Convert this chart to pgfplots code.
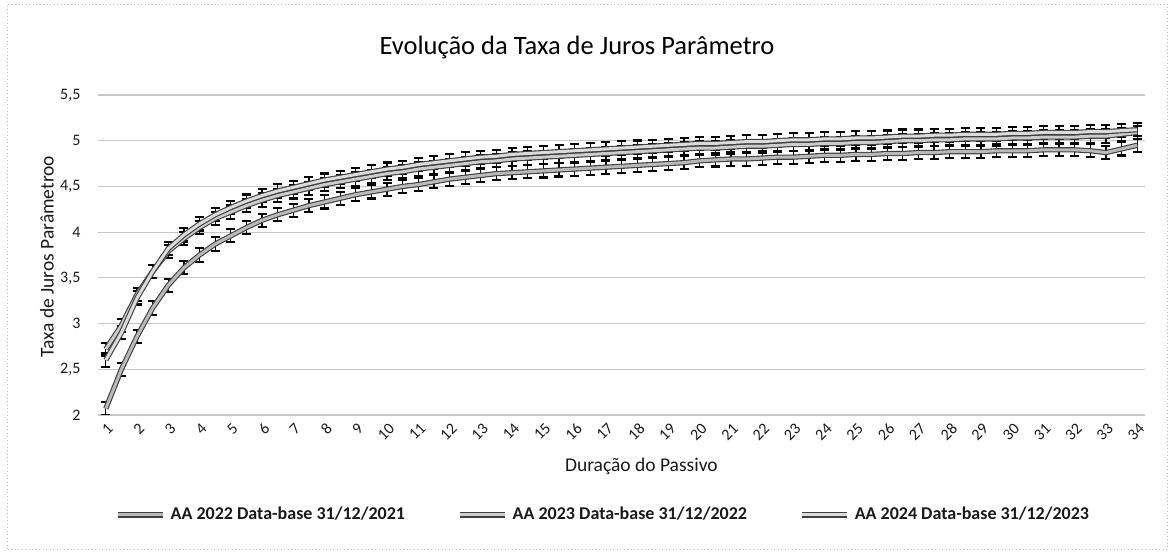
\documentclass[border=0pt]{standalone}
\usepackage{pgfplots}
\pgfplotsset{compat=1.18}
\usepackage{pgfplotstable}
\usepackage{fontspec}
\setmainfont{Carlito}
\pgfplotstableread{
x a22 a23 a24
1 2.07 2.72 2.60
1.5 2.50 2.98 2.90
2 2.86 3.32 3.28
2.5 3.17 3.57 3.57
3 3.42 3.79 3.82
3.5 3.61 3.93 3.97
4 3.75 4.05 4.09
4.5 3.87 4.15 4.19
5 3.96 4.22 4.27
5.5 4.05 4.29 4.34
6 4.13 4.35 4.40
6.5 4.19 4.40 4.45
7 4.24 4.44 4.49
7.5 4.29 4.48 4.53
8 4.33 4.52 4.57
8.5 4.37 4.55 4.60
9 4.41 4.58 4.63
9.5 4.44 4.61 4.66
10 4.47 4.64 4.69
10.5 4.50 4.66 4.71
11 4.52 4.69 4.74
11.5 4.55 4.71 4.76
12 4.58 4.73 4.78
12.5 4.60 4.75 4.80
13 4.62 4.77 4.82
13.5 4.64 4.78 4.83
14 4.65 4.80 4.85
14.5 4.66 4.81 4.86
15 4.67 4.82 4.87
15.5 4.68 4.83 4.88
16 4.69 4.84 4.89
16.5 4.70 4.85 4.90
17 4.71 4.86 4.91
17.5 4.72 4.87 4.92
18 4.73 4.88 4.93
18.5 4.74 4.89 4.94
19 4.75 4.90 4.95
19.5 4.76 4.91 4.96
20 4.78 4.92 4.97
20.5 4.79 4.92 4.97
21 4.80 4.93 4.98
21.5 4.80 4.94 4.99
22 4.81 4.94 4.99
22.5 4.82 4.95 5.00
23 4.82 4.96 5.01
23.5 4.83 4.96 5.01
24 4.84 4.97 5.02
24.5 4.84 4.97 5.02
25 4.85 4.98 5.03
25.5 4.85 4.98 5.03
26 4.86 4.99 5.04
26.5 4.86 5.00 5.05
27 4.87 5.00 5.05
27.5 4.87 5.01 5.06
28 4.88 5.01 5.06
28.5 4.88 5.02 5.07
29 4.88 5.02 5.07
29.5 4.89 5.02 5.07
30 4.89 5.03 5.08
30.5 4.89 5.03 5.08
31 4.90 5.04 5.09
31.5 4.90 5.04 5.09
32 4.90 5.04 5.09
32.5 4.89 5.05 5.10
33 4.87 5.05 5.10
33.5 4.91 5.07 5.11
34 4.95 5.09 5.12
}\data
\pgfplotsset{
  band/.style={draw=black!75, line width=0.45pt, double=#1, double distance=1.2pt, mark=none},
  ebars/.style={forget plot, draw=none, mark=none,
    error bars/.cd, y dir=both, y fixed=0.072,
    error bar style={draw=black, line width=0.5pt, solid},
    error mark options={rotate=90, draw=black, line width=0.85pt, mark size=1.8pt}},
}
\begin{document}
\begin{tikzpicture}
\useasboundingbox (0,0) rectangle (468.4pt,221.2pt);
\draw[gray!55, densely dotted, line width=0.4pt] (3pt,1.5pt) rectangle (467pt,219.5pt);
\node[text=black] at (230.8pt,202pt) {\fontsize{10.6}{12}\selectfont Evolução da Taxa de Juros Parâmetro};
\begin{axis}[
  at={(39.2pt,55.2pt)}, anchor=south west,
  scale only axis, width=418.8pt, height=128pt,
  xmin=0.75, xmax=34.25, ymin=2, ymax=5.5,
  xtick={1,...,34}, ytick={2,2.5,...,5.5},
  yticklabels={2,{2,5},3,{3,5},4,{4,5},5,{5,5}},
  ymajorgrids, grid style={gray!45, line width=0.45pt},
  axis line style={draw=none}, major tick length=0pt,
  /pgf/number format/assume math mode=true,
  tick label style={font=\fontsize{6.4}{7}\selectfont, text=black!90},
  xticklabel style={rotate=45, anchor=north east, inner sep=0.6pt, xshift=-1pt, yshift=-1.5pt},
  yticklabel style={anchor=east, xshift=-3.5pt},
  xlabel={Duração do Passivo}, ylabel={Taxa de Juros Parâmetroo},
  xlabel style={at={(axis description cs:0.519,-0.159)}, anchor=center, font=\fontsize{7.8}{9}\selectfont, text=black!90},
  ylabel style={at={(axis description cs:-0.0487,0.494)}, anchor=center, font=\fontsize{7.8}{9}\selectfont, text=black!90},
  legend columns=3,
  legend style={at={(axis description cs:0.484,-0.3125)}, anchor=center, draw=none, fill=none,
    font=\bfseries\fontsize{7.2}{8}\selectfont, text=black!90,
    /tikz/every even column/.append style={column sep=19pt}},
  legend cell align=left,
  legend image code/.code={\draw[#1] (0pt,0pt) -- (18pt,0pt);},
]
\addplot[ebars] table[x=x,y=a22]{\data};
\addplot[ebars] table[x=x,y=a23]{\data};
\addplot[ebars] table[x=x,y=a24]{\data};
\addplot[band=gray!55] table[x=x,y=a22]{\data};
\addlegendentry{AA 2022 Data-base 31/12/2021}
\addplot[band=gray!40] table[x=x,y=a23]{\data};
\addlegendentry{AA 2023 Data-base 31/12/2022}
\addplot[band=gray!28] table[x=x,y=a24]{\data};
\addlegendentry{AA 2024 Data-base 31/12/2023}
\end{axis}
\end{tikzpicture}
\end{document}
